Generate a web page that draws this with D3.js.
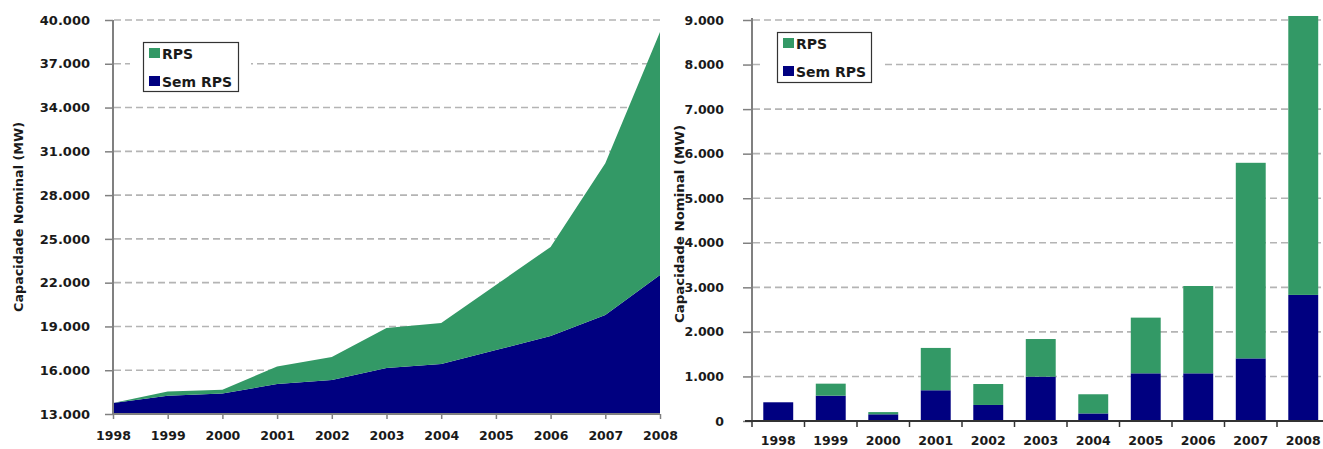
<!DOCTYPE html>
<html>
<head>
<meta charset="utf-8">
<script src="https://cdn.jsdelivr.net/npm/d3@7"></script>
<style>
  html, body { margin: 0; padding: 0; background: #fff; }
  svg { display: block; }
  text { font-family: "DejaVu Sans", Verdana, sans-serif; font-weight: bold; fill: #1a1a1a; }
</style>
</head>
<body>
<svg id="chart" width="1323" height="449"></svg>
<script>
// Anos (eixo X dos dois gráficos)
const anos = ["1998","1999","2000","2001","2002","2003","2004","2005","2006","2007","2008"];

// Capacidade acumulada (MW) – gráfico de áreas empilhadas
const acumSemRps = [13750, 14250, 14400, 15050, 15330, 16150, 16420, 17380, 18340, 19780, 22520];
const acumRps    = [0,       300,   260,  1200,  1570,  2740,  2810,  4460,  6110, 10410, 16650];

// Capacidade adicionada por ano (MW) – gráfico de barras empilhadas
const anualSemRps = [420, 568, 150, 690, 360, 995, 170, 1070, 1070, 1405, 2830];
const anualRps    = [0,   270,  50, 950, 470, 845, 430, 1250, 1960, 4390, 6260];

// Rótulos dos eixos Y
const ticksAcum  = [13000, 16000, 19000, 22000, 25000, 28000, 31000, 34000, 37000, 40000];
const ticksAnual = [0, 1000, 2000, 3000, 4000, 5000, 6000, 7000, 8000, 9000];

const series = ["RPS", "Sem RPS"];
const cores = { "RPS": "#339966", "Sem RPS": "#000080" };

const fmt = v => d3.format(",")(v).replace(/,/g, ".");
const svg = d3.select("#chart");

function gridlines(g, y, ticks, x0, x1) {
  g.selectAll("line.grid").data(ticks).join("line")
    .attr("class", "grid")
    .attr("x1", x0).attr("x2", x1)
    .attr("y1", d => y(d)).attr("y2", d => y(d))
    .attr("stroke", "#b4b4b4").attr("stroke-width", 1.6)
    .attr("stroke-dasharray", "7,4");
}

function legend(g, x, y, w, h) {
  // white halo behind the legend box
  g.append("rect").attr("x", x - 13).attr("y", y - 6).attr("width", w + 26).attr("height", h + 12).attr("fill", "#fff");
  g.append("rect").attr("x", x + 0.5).attr("y", y + 0.5).attr("width", w).attr("height", h)
    .attr("fill", "#fff").attr("stroke", "#333").attr("stroke-width", 1.2);
  series.forEach((s, i) => {
    const yy = y + 6 + i * 28;
    g.append("rect").attr("x", x + 6).attr("y", yy).attr("width", 11).attr("height", 10).attr("fill", cores[s]);
    g.append("text").attr("x", x + 19).attr("y", yy + 10.5).attr("font-size", 14).text(s);
  });
}

function yTitle(g, x, yc, len) {
  g.append("text")
    .attr("transform", `translate(${x},${yc}) rotate(-90)`)
    .attr("text-anchor", "middle").attr("font-size", 11.5)
    .attr("textLength", len).attr("lengthAdjust", "spacingAndGlyphs")
    .text("Capacidade Nominal (MW)");
}

// ---------- Gráfico 1: capacidade acumulada ----------
{
  const g = svg.append("g");
  const x = d3.scalePoint().domain(anos).range([113, 660]);
  const y = d3.scaleLinear().domain([13000, 40000]).range([414, 20]);

  gridlines(g, y, ticksAcum.filter(t => t > 13000), 114, 660);

  const dados = anos.map((a, i) => ({ ano: a, "Sem RPS": acumSemRps[i], "RPS": acumRps[i] }));
  const pilha = d3.stack().keys(["Sem RPS", "RPS"])(dados);
  const area = d3.area()
    .x(d => x(d.data.ano))
    .y0(d => y(Math.max(d[0], 13000)))
    .y1(d => y(d[1]));
  // the lower series sits on the axis baseline
  g.selectAll("path.area").data(pilha).join("path")
    .attr("class", "area")
    .attr("fill", d => cores[d.key])
    .attr("d", d => d.key === "Sem RPS"
      ? d3.area().x(p => x(p.data.ano)).y0(y(13000)).y1(p => y(p[1]))(d)
      : area(d));

  legend(g, 143, 42, 95, 49);

  const ay = g.append("g").attr("transform", "translate(113,0)")
    .call(d3.axisLeft(y).tickValues(ticksAcum).tickFormat(fmt).tickSize(8).tickPadding(15));
  ay.select(".domain").attr("stroke", "#808080").attr("stroke-width", 2).attr("d", "M0,20V414");
  ay.selectAll(".tick line").attr("stroke", "#808080").attr("stroke-width", 1.5);
  ay.selectAll(".tick text").attr("font-size", 13).attr("fill", "#1a1a1a").attr("font-family", null);

  const ax = g.append("g").attr("transform", "translate(0,414)")
    .call(d3.axisBottom(x).tickSize(5).tickPadding(12));
  ax.select(".domain").attr("stroke", "#808080").attr("stroke-width", 2).attr("d", "M112,0H660");
  ax.selectAll(".tick line").attr("stroke", "#808080").attr("stroke-width", 1.5);
  ax.selectAll(".tick text").attr("font-size", 12.5).attr("fill", "#1a1a1a").attr("font-family", null);

  yTitle(g, 23, 217, 190);
}

// ---------- Gráfico 2: capacidade adicionada por ano ----------
{
  const g = svg.append("g");
  const x = d3.scaleBand().domain(anos).range([752, 1329.5]).paddingInner(0.43).paddingOuter(0.215);
  const y = d3.scaleLinear().domain([0, 9000]).range([421, 20]);

  gridlines(g, y, ticksAnual.filter(t => t > 0), 753, 1323);

  const dados = anos.map((a, i) => ({ ano: a, "Sem RPS": anualSemRps[i], "RPS": anualRps[i] }));
  const pilha = d3.stack().keys(["Sem RPS", "RPS"])(dados);
  g.selectAll("g.serie").data(pilha).join("g")
    .attr("class", "serie").attr("fill", d => cores[d.key])
    .selectAll("rect").data(d => d).join("rect")
    .attr("x", d => x(d.data.ano))
    .attr("width", x.bandwidth())
    .attr("y", d => y(d[1]))
    .attr("height", d => y(d[0]) - y(d[1]));

  legend(g, 777, 32, 94, 50);

  const ay = g.append("g").attr("transform", "translate(752,0)")
    .call(d3.axisLeft(y).tickValues(ticksAnual).tickFormat(fmt).tickSize(9).tickPadding(19));
  ay.select(".domain").attr("stroke", "#808080").attr("stroke-width", 2).attr("d", "M0,18V421");
  ay.selectAll(".tick line").attr("stroke", "#808080").attr("stroke-width", 1.5);
  ay.selectAll(".tick text").attr("font-size", 12.5).attr("fill", "#1a1a1a").attr("font-family", null);

  // X axis: category labels centred, tick marks between categories
  const step = x.step();
  const ax = g.append("g").attr("transform", "translate(0,421)");
  ax.append("line").attr("x1", 745).attr("x2", 1323).attr("y1", 0).attr("y2", 0)
    .attr("stroke", "#333").attr("stroke-width", 2);
  ax.selectAll("line.tk").data(anos).join("line").attr("class", "tk")
    .attr("x1", (d, i) => 752 + i * step).attr("x2", (d, i) => 752 + i * step)
    .attr("y1", 0).attr("y2", 6).attr("stroke", "#333").attr("stroke-width", 1.5);
  ax.selectAll("text").data(anos).join("text")
    .attr("x", d => x(d) + x.bandwidth() / 2).attr("y", 24)
    .attr("text-anchor", "middle").attr("font-size", 12.5).text(d => d);

  yTitle(g, 684, 224, 198);
}
</script>
</body>
</html>
